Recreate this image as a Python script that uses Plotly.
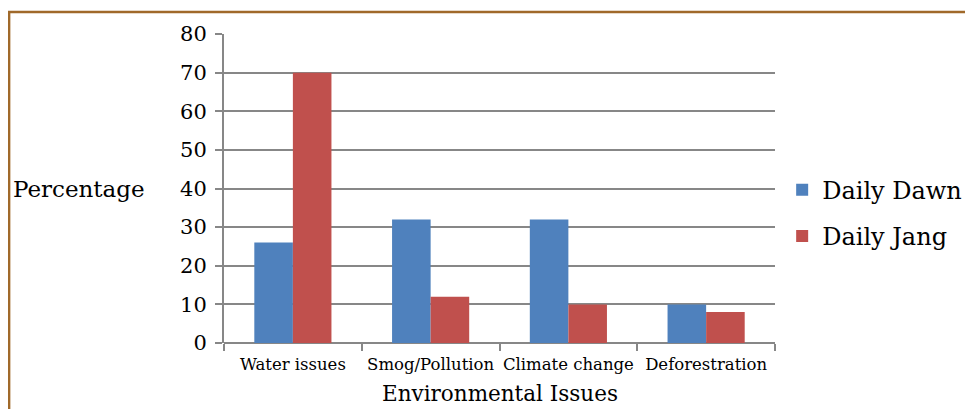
import plotly.graph_objects as go

categories = ["Water issues", "Smog/Pollution", "Climate change", "Deforestration"]
daily_dawn = [26, 32, 32, 10]
daily_jang = [70, 12, 10, 8]
y_ticks = [0, 10, 20, 30, 40, 50, 60, 70, 80]

FONT = "DejaVu Serif"
GRID = "#878787"

fig = go.Figure()
fig.add_trace(go.Bar(name="Daily Dawn", x=categories, y=daily_dawn,
                     marker=dict(color="#4F81BD", line=dict(width=0)), legendgroup="a"))
fig.add_trace(go.Bar(name="Daily Jang", x=categories, y=daily_jang,
                     marker=dict(color="#C0504D", line=dict(width=0)), legendgroup="b"))

fig.update_layout(
    width=965, height=401,
    margin=dict(l=216, r=198, t=26, b=66, autoexpand=False),
    paper_bgcolor="white", plot_bgcolor="white",
    barmode="group", bargap=0.44, bargroupgap=0,
    font=dict(family=FONT, color="black"),
    showlegend=True,
    legend=dict(x=1.013, y=0.42, xanchor="left", yanchor="middle",
                font=dict(size=24, family=FONT), traceorder="grouped",
                tracegroupgap=12, itemwidth=30, bgcolor="rgba(0,0,0,0)"),
    xaxis=dict(type="category", tickson="boundaries", ticks="outside", ticklen=7,
               tickcolor=GRID, tickwidth=2, showline=False, showgrid=False,
               tickangle=0, automargin=False, ticklabelstandoff=9,
               tickfont=dict(size=16.5, family=FONT), linecolor=GRID),
    yaxis=dict(range=[0, 80], tickvals=y_ticks, ticks="outside", ticklen=7,
               tickcolor=GRID, tickwidth=2, showgrid=True, gridcolor=GRID, gridwidth=2,
               showline=True, linecolor=GRID, linewidth=2, zeroline=True,
               zerolinecolor=GRID, zerolinewidth=2, automargin=False,
               tickfont=dict(size=21, family=FONT), ticklabelstandoff=4),
    annotations=[
        dict(text="Percentage", xref="paper", yref="paper", x=-0.139, y=0.5,
             xanchor="right", yanchor="middle", showarrow=False,
             font=dict(size=23, family=FONT)),
        dict(text="Environmental Issues", xref="paper", yref="paper", x=0.5, y=-0.162,
             xanchor="center", yanchor="middle", showarrow=False,
             font=dict(size=21.5, family=FONT)),
    ],
    shapes=[dict(type="rect", xref="paper", yref="paper",
                 x0=-0.390, y0=-1.0, x1=2.0, y1=1.071,
                 line=dict(color="#A0692A", width=2.5), fillcolor="rgba(0,0,0,0)", layer="below")],
)

fig.write_html("out.html")
